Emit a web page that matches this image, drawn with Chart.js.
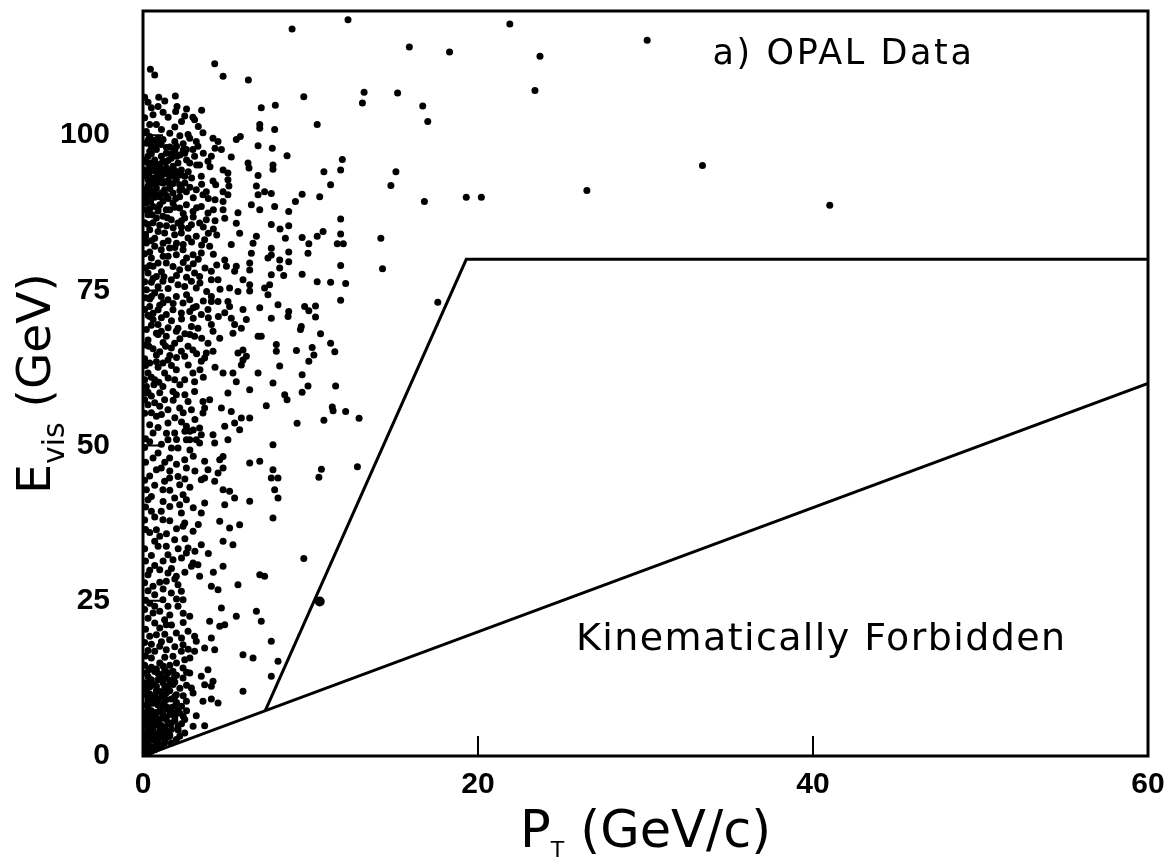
<!DOCTYPE html>
<html>
<head>
<meta charset="utf-8">
<script src="https://cdn.jsdelivr.net/npm/chart.js@4.4.1/dist/chart.umd.min.js"></script>
<style>
  html, body { margin: 0; padding: 0; background: #fff; }
  canvas { display: block; }
</style>
</head>
<body>
<canvas id="opalChart" width="1170" height="863"></canvas>
<script>
// P_T (GeV/c), E_vis (GeV) pairs
const ptTop = [
  [4.28,111.5],[0.44,110.6],[0.70,109.7],[4.78,109.5],[6.29,108.9],[1.93,106.3],[0.94,106.1],[0.10,106.1],
  [0.90,104.6],[0.50,104.4],[2.03,104.6],[1.95,103.8],[3.50,104.0],[7.06,104.4],[7.90,104.8],[1.50,102.9],
  [2.49,103.1],[2.98,102.9],[3.08,102.5],[0.10,102.8],[1.90,101.3],[0.40,101.7],[0.80,101.7],[6.97,101.7],
  [6.97,101.1],[7.86,100.9],[3.58,100.4],[2.69,100.1],[2.79,99.5],[4.18,99.5],[4.48,99.0],[5.81,99.8],
  [5.57,99.3],[4.68,97.7],[6.87,98.3],[7.72,97.9],[5.27,96.5],[4.08,96.6],[3.88,95.8],[6.27,95.5],
  [6.33,94.7],[7.76,95.2],[7.76,94.5],[6.87,93.5],[6.77,91.8],[6.87,90.4],[7.26,90.9],[7.66,90.6],
  [4.78,94.4],[5.07,93.9],[4.18,92.6],[4.34,92.0],[5.07,92.8],[5.13,91.8],[4.78,90.9],[5.07,90.4],
  [3.48,93.4],[3.58,90.4],[3.20,95.2],[3.38,95.2],[2.79,95.5],[1.60,98.1],[1.20,99.3],[0.90,99.5],
  [0.40,99.8],[3.18,99.0],[3.28,98.2],[2.49,97.1],[2.59,97.7],[2.98,97.7],[3.08,96.6],[1.89,93.9],
  [1.99,92.8],[2.59,90.9],[3.18,91.2],[3.78,90.9],
  [0.2,98.7],[0.5,98.2],[0.8,97.7],[1.09,98.5],[1.39,97.1],[0.3,96.6],[0.7,96.0],[1.19,95.8],
  [1.69,96.3],[2.09,95.5],[0.4,95.0],[0.9,94.4],[1.39,94.7],[1.79,95.0],[2.29,94.4],[0.2,93.4],
  [0.6,93.1],[1.09,93.4],[1.49,92.6],[2.19,92.0],[0.3,91.8],[0.8,91.5],[1.29,91.2],[1.79,90.7],
  [0.4,90.4],[1.0,90.1],[2.19,90.1],[0.1,94.4],[1.59,93.4],[2.49,93.4],[0.1,90.9],[0.7,92.3],[1.19,92.3],
  [0.3,105.3],[1.3,105.5],[2.6,104.2],[0.6,103.3],[1.2,103.7],[2.3,102.2],[0.2,100.6],[1.1,100.9],
  [1.6,100.3],[2.2,99.9],[3.3,101.4],[0.6,99.2],[1.9,99.0],[2.4,98.6],[0.4,97.4],[1.9,97.5],
  [2.2,96.8],[0.5,95.5],[1.0,95.3],[1.5,95.9],[2.6,96.0],[0.15,96.0],[0.6,94.3],[1.2,94.0],
  [1.9,94.3],[2.7,94.1],[0.3,92.8],[0.9,92.9],[1.3,92.5],[1.8,92.2],[2.5,92.3],[2.9,93.1],
  [0.5,91.1],[1.1,90.7],[1.6,91.4],[2.2,91.1],[2.8,91.6],[0.2,89.9],[0.7,90.0],[1.5,89.8],
  [3.0,89.9],[4.0,94.9],[3.6,97.1],[4.3,97.9],[3.5,92.1],[3.9,89.8],[4.3,89.6]
];

const ptUpperMid = [
  [4.78,89.3],[4.78,88.0],[4.88,86.6],[5.67,87.5],[5.57,85.8],[6.47,88.8],[6.97,88.0],[7.86,88.5],
  [7.66,85.6],[5.77,84.2],[5.27,82.4],[6.77,83.7],[6.57,82.6],[7.66,81.8],[7.46,80.2],[7.66,80.7],
  [6.47,81.0],[6.37,79.4],[8.16,79.9],[8.16,78.6],[4.88,79.9],[4.98,78.9],[5.57,78.9],[5.47,78.1],
  [6.37,78.3],[5.97,76.7],[7.66,77.5],[7.56,75.9],[4.08,78.1],[4.08,76.7],[4.48,76.7],[5.17,75.4],
  [5.67,74.8],[6.37,75.9],[6.37,74.9],[7.26,75.4],[7.46,74.3],[6.97,72.2],[8.06,72.7],[5.97,71.9],
  [5.07,73.2],[5.17,72.4],[4.48,73.2],[4.88,71.4],[4.08,74.0],[4.08,73.2],[3.88,71.9],[5.27,70.5],
  [5.47,69.5],[5.87,68.9],[6.17,70.3],[7.66,70.5],[6.87,67.6],[7.06,67.6],[7.96,66.3],[7.96,65.2],
  [5.37,68.1],[4.08,69.5],[4.18,68.4],[3.88,66.5],[3.78,64.9],[4.18,65.2],[4.58,67.3],[5.67,64.9],
  [5.97,65.4],[5.97,63.8],[6.17,64.4],[5.87,63.0],[6.87,61.7],[8.16,62.8],[4.78,61.7],[5.37,61.7],
  [5.57,60.3],[7.76,60.1],[3.48,63.6],[3.68,64.1],[2.98,61.7],[3.08,60.3],[1.99,62.2],[1.89,60.6],
  [2.49,60.6],[1.29,61.7],[0.8,64.6],[0.3,61.7],[0.2,59.5],[1.19,59.5],[2.69,66.0],[2.98,65.4],
  [2.29,65.2],[2.49,64.4],[1.89,66.5],[1.69,65.7],[1.19,63.3],[1.49,63.8],[0.9,67.9],[1.09,68.4],
  [1.39,67.6],[2.09,68.9],[1.99,68.4],[2.89,69.2],[3.28,68.9],[3.08,67.6],[3.48,71.1],[2.79,71.6],
  [1.39,71.1],[0.6,70.3],[0.4,70.8],[0.2,68.7],[0.8,68.1],
  [0.2,89.06],[0.6,88.53],[1.0,88.8],[1.39,87.99],[1.79,89.06],[2.19,88.26],[2.59,88.8],[2.99,87.72],
  [3.48,88.53],[3.88,87.45],[0.3,87.18],[0.8,86.65],[1.19,86.92],[1.69,86.38],[2.09,85.84],[2.49,86.65],
  [2.89,85.57],[3.38,85.84],[3.78,86.38],[0.4,84.77],[0.9,84.5],[1.29,84.23],[1.89,83.96],[2.29,84.23],
  [2.69,83.43],[3.18,83.7],[3.68,83.16],[3.98,82.09],[0.2,82.62],[0.7,82.09],[1.09,81.55],[1.59,81.82],
  [1.99,80.74],[2.39,81.55],[2.99,80.74],[3.48,81.01],[0.5,80.21],[0.9,79.4],[1.39,79.4],[1.79,78.86],
  [2.19,78.33],[2.69,78.6],[3.08,77.79],[3.38,77.25],[0.3,77.79],[0.8,77.25],[1.19,76.45],[1.69,76.72],
  [2.09,75.91],[2.49,75.64],[2.89,76.45],[3.18,75.38],[0.2,75.11],[0.7,74.57],[1.09,74.03],[1.49,73.5],
  [1.99,74.03],[2.39,72.96],[2.79,73.5],[3.18,72.42],[0.4,72.42],[0.9,71.89],[1.79,71.89],[2.29,71.35],
  [0.4,88.1],[0.9,87.8],[1.6,88.0],[2.4,87.4],[3.2,88.3],[4.2,88.0],[0.6,85.9],[1.4,85.4],
  [2.3,85.2],[3.0,86.8],[3.6,85.2],[4.3,86.2],[0.15,84.0],[0.7,83.4],[1.5,83.0],[2.0,82.6],
  [2.9,82.8],[3.5,82.3],[4.4,83.9],[0.4,81.2],[1.2,80.5],[1.9,81.9],[2.6,80.2],[3.3,80.0],
  [4.2,80.8],[0.6,78.9],[1.1,78.0],[2.0,77.4],[2.4,79.5],[3.0,79.3],[3.7,78.6],[0.5,76.3],
  [0.9,75.6],[1.5,75.3],[2.6,77.1],[3.4,76.2],[3.8,74.8],[0.4,73.6],[1.2,73.0],[1.8,72.9],
  [2.6,74.3],[3.0,72.2],[3.6,73.3],[0.6,71.3],[1.1,70.6],[1.7,70.1],[2.3,70.4],[3.0,70.5],
  [3.9,70.6],[0.5,69.4],[1.5,69.0],[2.5,68.0],[3.5,67.3],[0.3,67.0],[1.2,66.6],[2.2,67.2],
  [2.8,67.9],[0.6,65.6],[1.0,65.1],[2.0,64.2],[3.2,64.8],[0.4,63.3],[0.9,62.6],[1.7,62.9],
  [2.7,63.0],[3.4,62.2],[0.7,60.6],[1.5,60.9],[2.2,59.8],[3.6,61.0],[4.3,62.6],[4.5,70.8],
  [4.6,75.2],[4.4,79.1],[4.2,84.9],[3.9,84.2]
];

const ptLowerMid = [
  [0.1,57.39],[0.3,56.58],[1.0,56.32],[0.8,54.71],[0.4,53.36],[0.6,52.02],[1.49,53.63],[1.49,55.78],
  [1.29,57.39],[1.79,58.73],[1.99,58.19],[2.19,56.05],[2.69,57.12],[2.89,55.78],[3.08,58.73],[3.58,57.12],
  [3.98,57.39],[3.58,55.24],[3.68,56.05],[4.68,56.05],[5.27,55.51],[5.87,54.44],[6.37,54.44],[5.47,53.63],
  [4.88,53.1],[5.77,52.56],[2.59,53.1],[2.79,52.29],[3.38,52.83],[3.48,51.75],[3.38,50.41],[2.59,50.95],
  [2.79,50.95],[3.18,50.95],[4.18,51.75],[4.28,50.41],[5.07,50.95],[1.49,50.95],[1.89,52.02],[2.09,49.61],
  [0.9,48.8],[1.59,48.0],[2.49,47.73],[3.68,47.46],[4.58,47.73],[4.78,48.26],[4.48,45.58],[4.78,46.39],
  [3.88,46.12],[2.59,46.39],[0.8,46.12],[1.09,46.39],[1.29,44.24],[1.19,42.9],[1.59,44.78],[2.09,45.04],
  [2.19,43.7],[3.48,44.51],[3.68,44.78],[4.28,44.24],[4.78,42.9],[5.17,42.63],[5.47,41.56],[6.37,41.02],
  [6.37,47.19],[6.97,47.46],[7.76,46.12],[7.66,44.78],[8.06,44.78],[7.86,42.9],[8.06,41.56],[7.76,38.33],
  [0.2,42.9],[0.3,41.29],[0.5,39.41],[1.09,39.41],[1.19,38.07],[0.8,36.46],[1.0,35.38],[0.7,34.58],
  [1.89,41.56],[2.39,42.09],[2.59,41.29],[2.19,40.48],[2.29,39.14],[3.68,40.75],[3.48,39.14],[4.88,40.48],
  [4.58,37.8],[5.17,36.72],[5.77,37.26],[2.49,37.53],[2.39,36.99],[2.99,36.19],[1.89,34.85],[1.39,33.77],
  [1.49,32.43],[1.79,31.62],[2.59,32.7],[2.69,33.5],[3.48,34.04],[4.78,34.58],[5.37,34.04],[2.99,31.09],
  [3.28,30.82],[2.89,30.55],[4.78,30.55],[6.97,29.21],[7.26,28.94],[0.3,29.21],[1.0,30.01],[1.49,29.48],
  [3.38,28.94],[1.99,28.94],[7.36,56.42],[7.76,50.14],[5.07,58.46],[6.37,59.0],[0.2,58.46],
  [0.5,58.0],[1.0,58.5],[2.5,58.2],[0.7,56.9],[1.8,57.3],[2.4,55.3],[1.1,55.0],[0.5,55.3],
  [1.9,54.5],[2.3,53.8],[3.1,54.2],[0.9,52.9],[1.4,52.0],[2.0,51.0],[2.5,52.3],[3.0,52.5],
  [0.4,50.6],[1.1,50.2],[1.7,49.6],[2.8,49.3],[0.6,48.0],[1.3,47.3],[2.0,47.0],[3.0,48.3],
  [0.4,45.1],[1.6,45.9],[2.5,44.6],[3.1,45.9],[0.7,43.6],[1.6,42.8],[2.8,43.3],[0.5,41.8],
  [1.2,41.0],[1.6,40.2],[3.0,40.0],[0.7,38.5],[1.6,37.9],[3.3,37.3],[0.4,36.0],[1.4,35.8],
  [2.0,36.6],[2.5,35.0],[0.9,33.8],[2.1,33.4],[3.1,33.0],[0.5,32.3],[1.2,31.4],[2.3,31.9],
  [0.7,30.7],[1.7,30.2],[2.5,29.6],[3.9,32.6],[4.2,29.6],[0.4,29.9]
];

const ptBottom = [
  [0.6,27.33],[0.7,25.98],[1.39,28.13],[1.69,26.25],[2.09,27.59],[2.29,26.52],[2.39,25.18],[2.09,24.11],
  [1.49,24.11],[1.19,25.18],[0.7,24.11],[0.6,23.03],[0.7,21.42],[1.29,21.96],[1.39,21.15],[0.8,19.54],
  [1.99,19.81],[2.69,20.08],[3.08,19.27],[3.18,18.47],[2.79,22.5],[3.98,21.69],[4.58,20.89],[4.88,21.15],
  [4.68,23.84],[5.57,22.5],[6.77,23.3],[7.06,21.69],[5.67,27.59],[4.08,27.33],[4.48,26.79],[7.66,18.47],
  [8.06,15.25],[7.66,12.83],[5.97,16.32],[6.57,15.79],[5.97,10.42],[4.08,19.01],[4.28,17.13],[3.68,17.4],
  [3.08,16.86],[2.39,17.93],[2.29,16.86],[1.59,18.74],[1.39,17.13],[1.0,17.66],[0.7,16.86],[0.5,15.79],
  [1.0,14.98],[1.79,16.05],[2.49,15.52],[2.39,14.18],[1.79,13.64],[1.89,12.83],[2.39,12.57],[2.79,13.37],
  [3.48,12.83],[3.68,11.49],[3.88,13.91],[4.18,12.03],[4.08,11.22],[2.89,10.96],[2.99,10.15],[2.59,8.81],
  [1.99,9.88],[1.89,8.0],[1.49,11.22],[1.19,9.61],[1.09,8.0],[3.58,8.81],[4.08,9.18],[4.48,8.54],
  [3.18,6.5],[2.99,4.78],[3.68,4.89],[2.19,6.93],[2.09,4.78],[1.59,3.17],[1.29,2.1],[1.39,5.86],
  [1.0,4.25],[0.8,1.56],[0.6,3.17],[0.4,5.32],[0.4,6.93],[0.3,9.08],[0.8,11.22],[0.5,12.3],
  [0.2,10.69],[0.2,13.37],[0.2,3.71],[0.2,1.56],[0.1,0.49],[0.5,1.02],[0.5,0.75],[1.69,2.1],
  [2.19,3.17],[1.19,6.66],[0.9,12.3],[1.39,12.57],[0.3,7.47],[0.7,6.39],[0.9,9.08],[1.69,5.32],
  [1.79,6.93],[2.49,5.86],[0.6,4.78],[1.19,3.71],[1.99,2.64],[2.49,3.71],
  [0.1,2.5],[0.3,2.0],[0.5,3.5],[0.9,2.4],[1.1,3.3],[0.3,4.3],[0.8,5.5],[1.3,4.6],[0.5,6.0],[1.0,7.3],
  [1.5,7.5],[0.2,8.2],[0.6,8.5],[1.4,9.1],[0.4,10.0],[1.0,10.4],[1.6,10.5],[0.6,11.5],[1.2,11.8],
  [1.8,11.5],[0.3,12.8],[0.7,13.6],[1.5,13.4],[2.2,10.9],[2.0,8.6],[1.7,4.3],[2.3,5.2],[0.15,5.8],
  [0.15,11.8],[0.5,14.3],[1.2,14.5],[2.0,13.0],[1.0,1.8],[1.4,3.0],
  [1.0,28.0],[1.9,28.5],[0.3,26.6],[1.2,26.9],[2.0,25.3],[0.4,24.6],[1.0,23.3],[1.6,22.7],
  [2.4,23.0],[0.3,22.2],[1.0,20.6],[1.7,21.1],[2.4,21.5],[0.4,19.3],[1.3,19.6],[2.3,19.0],
  [0.5,18.0],[1.1,18.4],[1.9,17.6],[2.7,17.2],[0.3,17.0],[1.3,15.9],[2.0,15.0],[2.8,15.8],
  [0.8,14.0],[1.6,14.6],[2.6,13.5],[1.1,13.1],[1.9,11.9],[2.6,11.4],[0.4,11.1],[1.4,10.2],
  [2.4,9.7],[0.7,9.7],[1.7,9.2],[2.3,8.0],[0.4,8.6],[0.9,8.2],[1.4,7.9],[0.2,7.0],
  [0.8,7.0],[1.6,6.7],[2.6,7.3],[0.5,5.5],[1.0,5.9],[1.9,5.7],[0.2,4.8],[1.1,4.9],
  [1.4,4.0],[0.5,4.3],[0.8,3.5],[2.1,4.2],[0.3,3.1],[0.7,2.5],[1.3,2.7],[0.4,1.4],
  [0.9,1.3],[0.1,1.2],[0.3,0.6],[0.7,1.0]
];

// the near-solid cores beside the E axis
const ptCore = [
  [0.25,0.3],[0.6,1.5],[1.1,1.5],[0.35,2.4],[0.95,3.0],[1.6,3.4],[0.15,3.6],[0.6,4.0],[1.2,4.2],
  [0.35,5.0],[0.9,5.0],[1.5,5.2],[0.25,6.3],[0.75,6.3],[1.3,6.3],[1.9,6.3],[0.5,7.3],[1.15,7.0],
  [1.7,7.8],[0.3,8.0],[0.8,8.8],[1.25,8.5],[1.9,9.6],[0.5,9.2],[1.1,9.5],[0.25,9.8],[0.8,10.5],
  [1.3,11.0],[0.45,12.0],[1.0,12.4],[1.6,12.2],[0.25,11.5],[0.9,13.3],[1.3,13.8],[0.35,13.9],
  [2.1,7.2],[2.4,6.4],
  [0.3,99.2],[0.85,98.6],[1.4,98.0],[2.0,98.2],[0.5,97.0],[1.1,96.6],[1.7,97.0],[2.4,97.6],
  [0.25,95.6],[0.8,95.2],[1.35,95.6],[2.0,96.6],[0.5,94.6],[1.05,94.6],[1.6,94.4],[2.2,93.6],
  [0.35,93.9],[0.85,93.8],[1.3,93.8],[1.8,93.4],[0.45,92.1],[1.0,92.4],[1.6,91.9],[2.3,91.4],
  [0.2,91.3],[0.7,90.7],[1.4,90.3],[1.95,89.8],[0.45,89.3],[1.2,89.4],[0.9,88.3],[1.9,88.4],
  [0.55,87.2],[1.45,86.7],[2.3,86.2],[0.3,85.6],[1.0,85.5],[1.8,85.1],[2.7,85.0],[0.5,83.0],
  [1.2,82.6],[2.4,82.4],
  [0.5,74.0],[0.3,71.0],[0.9,69.5],[0.35,66.0],[0.8,63.5],[0.5,61.0],[0.95,60.2],[0.3,58.6],
  [0.65,59.8],[1.35,66.0],[1.6,64.5],[1.0,72.6],[0.6,76.9],[1.25,77.2],[1.5,80.5],[0.4,79.0]
];

// dots sitting right on the axis line
const ptEdge = [
  [0.15,88.0],[0.1,85.9],[0.15,83.6],[0.1,80.9],[0.15,78.6],[0.1,76.4],[0.15,73.8],[0.1,71.9],
  [0.15,66.2],[0.1,64.0],[0.15,62.9],[0.1,60.6],[0.1,55.2],[0.15,51.1],[0.1,49.7],[0.15,47.3],
  [0.1,44.4],[0.15,40.1],[0.1,38.0],[0.15,36.5],[0.1,33.4],[0.15,31.4],[0.1,27.9],[0.15,25.1],
  [0.1,23.6],[0.15,20.4],[0.1,18.3],[0.15,16.1],[0.1,14.6]
];

const ptOuter = [
  [12.24,118.6],[8.9,117.1],[21.9,117.9],[15.9,114.2],[18.3,113.4],[23.7,112.7],[23.4,107.2],[13.2,106.9],
  [13.1,105.2],[15.2,106.8],[16.7,104.7],[17.0,102.2],[9.6,106.2],[10.4,101.7],[8.6,96.7],[11.9,96.1],
  [11.8,94.4],[10.8,94.1],[11.2,92.0],[15.1,94.1],[14.8,91.9],[16.8,89.3],[19.3,90.0],[20.2,90.0],
  [9.5,90.5],[9.1,89.3],[10.55,90.1],[8.7,87.7],[11.8,86.5],[8.7,85.4],[8.5,83.4],[9.5,83.5],
  [10.4,83.7],[10.75,84.5],[9.9,82.5],[9.85,81.0],[11.8,84.1],[11.6,82.5],[11.96,82.5],[14.2,83.4],
  [8.7,81.2],[8.7,79.6],[8.4,77.4],[9.5,77.6],[11.8,79.0],[14.3,78.5],[10.4,76.4],[11.2,76.3],
  [12.1,76.1],[11.8,73.4],[17.6,73.1],[8.7,71.6],[8.66,70.8],[9.65,72.4],[9.9,71.7],[10.3,72.5],
  [10.3,70.7],[9.45,69.2],[9.4,68.7],[10.6,68.0],[11.2,66.5],[9.16,65.3],[10.1,65.8],[10.2,64.6],
  [11.45,65.1],[9.9,63.6],[9.5,61.4],[8.18,84.9],
  [8.46,58.2],[8.6,57.4],[9.5,58.6],[9.85,59.6],[11.5,59.6],[11.3,56.2],[11.35,55.6],[12.1,55.5],
  [12.9,54.4],[9.2,53.6],[10.8,54.1],[10.65,46.2],[10.5,44.9],[12.8,46.6],[9.6,31.8],
  [30.1,115.3],[33.4,95.1],[26.5,91.1],[41.0,88.7]
];

const ptBig = [[10.55,24.9]];

// kinematic boundaries
const edgeLow = [[0,0],[60,60]];
const edgeHigh = [[7.3,7.3],[19.3,80],[60,80]];

const xTicks = [0, 20, 40, 60];
const yTicks = [0, 25, 50, 75, 100];

const toXY = arr => arr.map(([x, y]) => ({ x, y }));
const allPoints = [...ptTop, ...ptUpperMid, ...ptLowerMid, ...ptBottom, ...ptCore, ...ptEdge, ...ptOuter];

const notes = [
  { text: 'a) OPAL Data', x: 34.0, y: 111.4, size: 35, spacing: 2.6 },
  { text: 'Kinematically Forbidden', x: 25.85, y: 17.15, size: 38, spacing: 1.4 }
];

function drawSub(ctx, main, sub, rest, size, subSize, subDrop) {
  const big = size + 'px "DejaVu Sans"';
  const small = subSize + 'px "DejaVu Sans"';
  ctx.font = big;
  const w1 = ctx.measureText(main).width;
  const w3 = ctx.measureText(rest).width;
  ctx.font = small;
  const w2 = ctx.measureText(sub).width;
  let cx = -(w1 + w2 + w3) / 2;
  ctx.font = big;
  ctx.fillText(main, cx, 0);
  cx += w1;
  ctx.font = small;
  ctx.fillText(sub, cx, subDrop);
  cx += w2;
  ctx.font = big;
  ctx.fillText(rest, cx, 0);
}

const framePlugin = {
  id: 'frame',
  afterDraw(chart) {
    const { ctx, chartArea: a, scales: { x, y } } = chart;
    ctx.save();
    ctx.strokeStyle = '#000';
    ctx.fillStyle = '#000';
    ctx.lineWidth = 3;
    ctx.strokeRect(a.left, a.top, a.right - a.left, a.bottom - a.top);

    // inward ticks
    ctx.lineWidth = 2;
    ctx.beginPath();
    yTicks.forEach(v => {
      if (v <= 0) return;
      const py = y.getPixelForValue(v);
      ctx.moveTo(a.left, py);
      ctx.lineTo(a.left + 20, py);
    });
    xTicks.forEach(v => {
      if (v <= 0 || v >= 60) return;
      const px = x.getPixelForValue(v);
      ctx.moveTo(px, a.bottom);
      ctx.lineTo(px, a.bottom - 20);
    });
    ctx.stroke();

    // notes inside the frame
    ctx.textBaseline = 'alphabetic';
    ctx.textAlign = 'left';
    notes.forEach(n => {
      ctx.font = n.size + 'px "DejaVu Sans"';
      ctx.letterSpacing = n.spacing + 'px';
      ctx.fillText(n.text, x.getPixelForValue(n.x), y.getPixelForValue(n.y));
    });
    ctx.letterSpacing = '0px';

    // axis titles with subscripts
    ctx.save();
    ctx.translate((a.left + a.right) / 2, 847);
    drawSub(ctx, 'P', 'T', ' (GeV/c)', 51, 22, 10);
    ctx.restore();

    ctx.save();
    ctx.translate(50, (a.top + a.bottom) / 2);
    ctx.rotate(-Math.PI / 2);
    drawSub(ctx, 'E', 'vis', ' (GeV)', 47, 30, 14);
    ctx.restore();

    ctx.restore();
  }
};

const tickFont = { family: 'Liberation Sans', size: 30, weight: 'bold' };
const noPad = s => { s.paddingTop = 0; s.paddingBottom = 0; s.paddingLeft = 0; s.paddingRight = 0; };

new Chart(document.getElementById('opalChart'), {
  type: 'scatter',
  data: {
    datasets: [{
      label: 'OPAL events',
      data: toXY(allPoints),
      pointRadius: 3.5,
      pointBackgroundColor: '#000',
      pointBorderWidth: 0,
      showLine: false
    }, {
      label: 'big',
      data: toXY(ptBig),
      pointRadius: 5,
      pointBackgroundColor: '#000',
      pointBorderWidth: 0,
      showLine: false
    }, {
      label: 'E = PT',
      data: toXY(edgeLow),
      showLine: true,
      borderColor: '#000',
      borderWidth: 3,
      pointRadius: 0,
      fill: false
    }, {
      label: 'upper edge',
      data: toXY(edgeHigh),
      showLine: true,
      borderColor: '#000',
      borderWidth: 3,
      pointRadius: 0,
      fill: false
    }]
  },
  options: {
    responsive: false,
    animation: false,
    layout: { padding: { top: 11, right: 22, left: 0, bottom: 0 } },
    plugins: { legend: { display: false }, tooltip: { enabled: false } },
    scales: {
      x: {
        type: 'linear',
        min: 0,
        max: 60,
        afterBuildTicks: s => { s.ticks = xTicks.map(v => ({ value: v })); },
        afterFit: s => { s.height = 107; noPad(s); },
        grid: { display: false, drawTicks: false },
        border: { display: false },
        ticks: { font: tickFont, color: '#000', padding: 11, autoSkip: false, maxRotation: 0 }
      },
      y: {
        type: 'linear',
        min: 0,
        max: 120,
        afterBuildTicks: s => { s.ticks = yTicks.map(v => ({ value: v })); },
        afterFit: s => { s.width = 143; noPad(s); },
        grid: { display: false, drawTicks: false },
        border: { display: false },
        ticks: { font: tickFont, color: '#000', padding: 33, autoSkip: false }
      }
    }
  },
  plugins: [framePlugin]
});
</script>
</body>
</html>
